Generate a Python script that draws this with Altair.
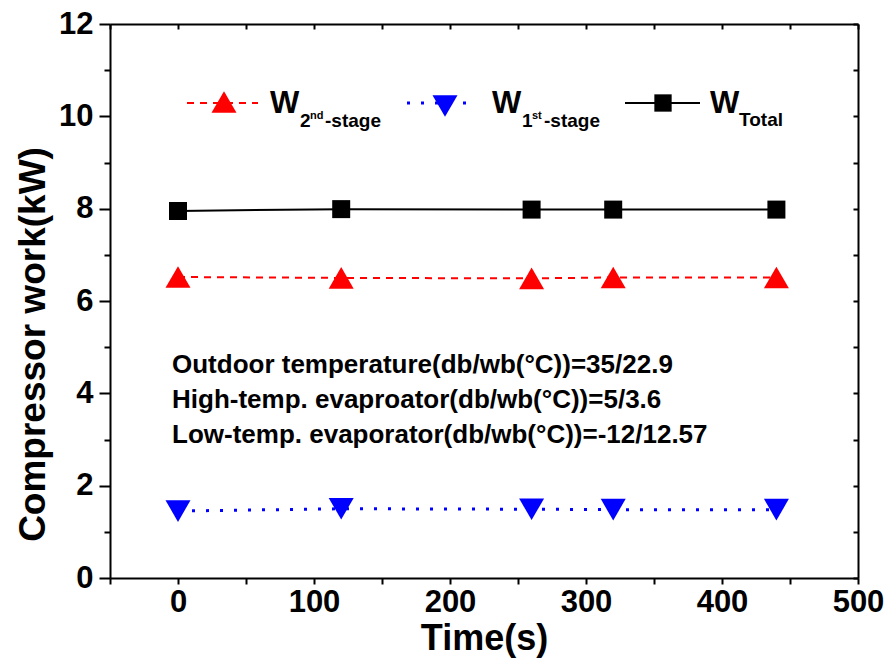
import altair as alt
import pandas as pd

# ---- data ----
time_s = [0, 120, 260, 320, 440]
w_total = [7.95, 7.99, 7.98, 7.98, 7.98]
w_2nd = [6.52, 6.50, 6.49, 6.51, 6.51]
w_1st = [1.45, 1.50, 1.49, 1.48, 1.48]

x_major = [0, 100, 200, 300, 400, 500]
x_minor = [-50, 50, 150, 250, 350, 450]
y_major = [0, 2, 4, 6, 8, 10, 12]
y_minor = [1, 3, 5, 7, 9, 11]

notes = [
    "Outdoor temperature(db/wb(°C))=35/22.9",
    "High-temp. evaproator(db/wb(°C))=5/3.6",
    "Low-temp. evaporator(db/wb(°C))=-12/12.57",
]
legend_main = ["W", "W", "W"]
legend_parts = [["2", "nd", "-stage"], ["1", "st", "-stage"], ["Total"]]

W, H = 748, 554
FONT = "Liberation Sans"

df = pd.DataFrame({"t": time_s, "total": w_total, "s2": w_2nd, "s1": w_1st})
one = pd.DataFrame({"k": [0]})

xs = alt.Scale(domain=[-50, 500], nice=False, zero=False)
ys = alt.Scale(domain=[0, 12], nice=False, zero=False)


def ax(**kw):
    d = dict(grid=False, labelFont=FONT, labelFontWeight="bold", titleFont=FONT,
             titleFontWeight="bold", domainColor="black", tickColor="black",
             labelColor="black", titleColor="black", domainWidth=2, tickWidth=2,
             labelFlush=False, labelOverlap=False)
    d.update(kw)
    return alt.Axis(**d)


base = alt.Chart(df)

black_line = base.mark_line(color="black", strokeWidth=2).encode(
    x=alt.X("t:Q", scale=xs, axis=ax(orient="bottom", values=x_major, tickSize=6,
                                     labelFontSize=31, labelPadding=3,
                                     title="Time(s)", titleFontSize=36,
                                     titleX=W / 2, titleY=71, titleAlign="center",
                                     titleBaseline="alphabetic")),
    y=alt.Y("total:Q", scale=ys, axis=ax(orient="left", values=y_major, tickSize=11,
                                         labelFontSize=31, labelPadding=6,
                                         title="Compressor work(kW)", titleFontSize=37,
                                         titleAngle=270, titleX=-66, titleY=320,
                                         titleAlign="center", titleBaseline="alphabetic")),
)

red_line = base.mark_line(color="#ff0000", strokeWidth=2, strokeDash=[7, 6]).encode(
    x=alt.X("t:Q", scale=xs, axis=ax(orient="bottom", values=x_minor, tickSize=6,
                                     labels=False, domain=False, title=None)),
    y=alt.Y("s2:Q", scale=ys, axis=ax(orient="left", values=y_minor, tickSize=6,
                                      labels=False, domain=False, title=None)),
)

blue_line = base.mark_line(color="#0000ff", strokeWidth=3, strokeDash=[3, 11]).encode(
    x=alt.X("t:Q", scale=xs, axis=ax(orient="bottom", offset=-H, values=x_major + x_minor,
                                     tickSize=5, labels=False, title=None)),
    y=alt.Y("s1:Q", scale=ys, axis=ax(orient="left", offset=-W, values=y_major + y_minor,
                                      tickSize=5, labels=False, title=None)),
)


def pts(field, shape, color, size):
    return base.mark_point(filled=True, shape=shape, color=color, size=size, opacity=1).encode(
        x=alt.X("t:Q", scale=xs, axis=None),
        y=alt.Y(f"{field}:Q", scale=ys, axis=None),
    )


black_pts = pts("total", "square", "black", 324)
red_pts = pts("s2", "triangle-up", "#ff0000", 625)
blue_pts = pts("s1", "triangle-down", "#0000ff", 625)


def txt(s, x, y, size):
    return alt.Chart(one).mark_text(align="left", baseline="alphabetic", font=FONT,
                                    fontWeight="bold", fontSize=size, color="black").encode(
        x=alt.value(x), y=alt.value(y), text=alt.value(s))


def leg_line(x1, x2, y, color, dash, width):
    kw = dict(color=color, strokeWidth=width)
    if dash:
        kw["strokeDash"] = dash
    return alt.Chart(one).mark_rule(**kw).encode(x=alt.value(x1), x2=alt.value(x2), y=alt.value(y))


def leg_sym(x, y, shape, color, size):
    return alt.Chart(one).mark_point(filled=True, shape=shape, color=color, size=size, opacity=1).encode(
        x=alt.value(x), y=alt.value(y))


legend = [
    leg_line(77, 148, 79, "#ff0000", [7, 6], 2),
    leg_sym(114, 78, "triangle-up", "#ff0000", 625),
    txt(legend_main[0], 160, 89, 31),
    txt(legend_parts[0][0], 190, 103, 19),
    txt(legend_parts[0][1], 200, 95, 11),
    txt(legend_parts[0][2], 215, 103, 19),
    leg_line(297, 363, 79, "#0000ff", [3, 11], 3),
    leg_sym(335, 82, "triangle-down", "#0000ff", 625),
    txt(legend_main[1], 382, 89, 31),
    txt(legend_parts[1][0], 412, 103, 19),
    txt(legend_parts[1][1], 422, 95, 11),
    txt(legend_parts[1][2], 434, 103, 19),
    leg_line(515, 590, 79, "black", None, 2),
    leg_sym(553, 79, "square", "black", 300),
    txt(legend_main[2], 600, 89, 31),
    txt(legend_parts[2][0], 629, 102, 19),
]

note_layers = [txt(notes[0], 62, 349, 26), txt(notes[1], 62, 384, 26), txt(notes[2], 62, 419, 26)]

chart = alt.layer(
    black_line, red_line, blue_line, black_pts, red_pts, blue_pts, *legend, *note_layers
).resolve_axis(x="independent", y="independent").properties(
    width=W, height=H,
    padding={"left": 110, "top": 24, "right": 32, "bottom": 89},
    autosize=alt.AutoSizeParams(type="none"),
).configure_view(stroke=None)

chart.save("out.html", embed_options={"renderer": "svg", "actions": False})
